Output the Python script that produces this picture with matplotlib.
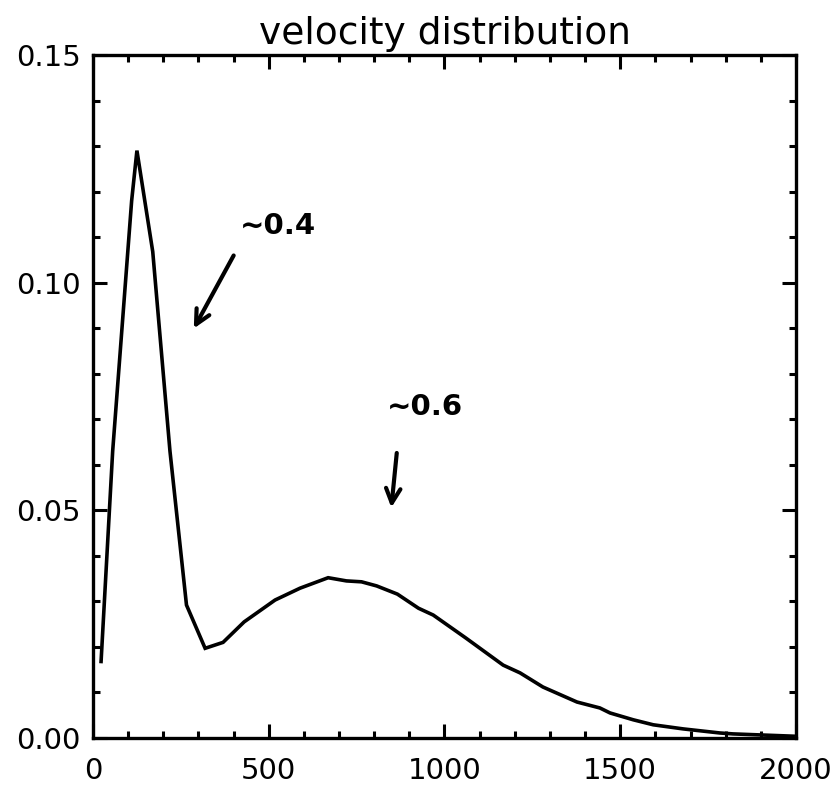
import matplotlib
matplotlib.use("Agg")
import matplotlib.pyplot as plt
from matplotlib.ticker import MultipleLocator, FormatStrFormatter

velocity = [23, 56, 110, 125, 170, 219, 266, 319, 370, 430, 518, 589, 669,
            721, 764, 807, 866, 926, 968, 1060, 1167, 1215, 1280, 1377,
            1442, 1471, 1537, 1594, 1679, 1784, 1821, 1992]
fraction = [0.0168, 0.063, 0.118, 0.129, 0.1068, 0.063, 0.0292, 0.0197,
            0.0210, 0.0255, 0.0303, 0.0329, 0.0352, 0.0345, 0.0343, 0.0334,
            0.0316, 0.0285, 0.0270, 0.0220, 0.0160, 0.0143, 0.0112, 0.0079,
            0.0066, 0.0055, 0.0040, 0.0029, 0.0020, 0.0011, 0.0009, 0.0004]

title = "velocity distribution"
notes = ["~0.4", "~0.6"]
note_text_xy = [(526, 0.1124), (945, 0.0727)]
note_arrow_start = [(404, 0.1065), (865, 0.0632)]
note_arrow_end = [(283, 0.0894), (848, 0.0500)]

fig = plt.figure(figsize=(8.4, 7.91), dpi=100)
ax = fig.add_axes([0.1107, 0.067, 0.8369, 0.8635])
ax.plot(velocity, fraction, color="black", lw=2.6, solid_joinstyle="miter")

ax.set_xlim(0, 2000)
ax.set_ylim(0, 0.15)
ax.xaxis.set_major_locator(MultipleLocator(500))
ax.xaxis.set_minor_locator(MultipleLocator(100))
ax.yaxis.set_major_locator(MultipleLocator(0.05))
ax.yaxis.set_minor_locator(MultipleLocator(0.01))
ax.yaxis.set_major_formatter(FormatStrFormatter("%.2f"))

for s in ax.spines.values():
    s.set_linewidth(2.4)
ax.tick_params(which="both", direction="in", top=True, right=True, width=2.2)
ax.tick_params(which="major", length=10, labelsize=21)
ax.tick_params(which="minor", length=5)
ax.tick_params(axis="x", which="major", pad=14)
ax.tick_params(axis="y", which="major", pad=9)

ax.set_title(title, fontsize=27, pad=8)

for txt, txy, s, e in zip(notes, note_text_xy, note_arrow_start, note_arrow_end):
    ax.text(txy[0], txy[1], txt, fontsize=21, fontweight="bold",
            ha="center", va="center")
    ax.annotate("", xy=e, xytext=s,
                arrowprops=dict(arrowstyle="->", lw=3, color="black",
                                mutation_scale=26))

fig.savefig("out.png", dpi=100)
